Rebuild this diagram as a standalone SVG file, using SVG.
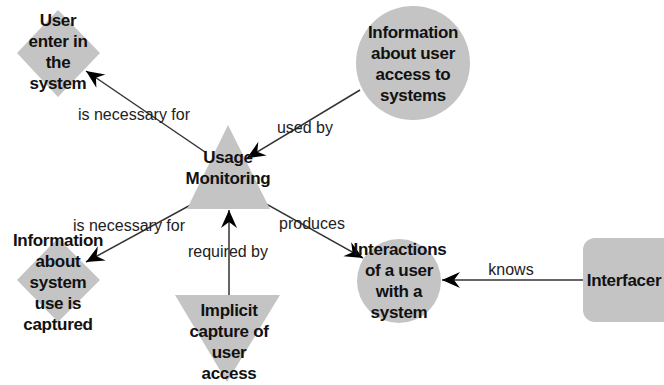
<svg xmlns="http://www.w3.org/2000/svg" width="664" height="385" viewBox="0 0 664 385">
<style>
.node{fill:#c4c4c4;stroke:none}
.nt{font-family:"Liberation Sans",Arial,sans-serif;font-weight:bold;font-size:17px;letter-spacing:-0.3px;fill:#111;text-anchor:middle}
.lbl{font-family:"Liberation Sans",Arial,sans-serif;font-size:16px;fill:#222;text-anchor:middle}
.edge{stroke:#333;stroke-width:1.5;fill:none;marker-end:url(#arr)}
</style>
<defs>
<marker id="arr" markerUnits="userSpaceOnUse" viewBox="-19 -9 20 18" refX="0" refY="0" markerWidth="20" markerHeight="18" orient="auto">
<path d="M0,0 L-18,-8 L-12,0 L-18,8 Z" fill="#000"/>
</marker>
</defs>
<rect width="664" height="385" fill="#fff"/>
<g id="connectors">
<line class="edge" x1="205" y1="152" x2="86" y2="71"/>
<line class="edge" x1="360" y1="90" x2="247" y2="158"/>
<line class="edge" x1="207" y1="196" x2="86" y2="262"/>
<line class="edge" x1="229" y1="295" x2="229" y2="210"/>
<line class="edge" x1="250" y1="195" x2="363" y2="258"/>
<line class="edge" x1="583" y1="280" x2="442" y2="280"/>
<text class="lbl" x="134" y="120">is necessary for</text>
<text class="lbl" x="305" y="133">used by</text>
<text class="lbl" x="129" y="231">is necessary for</text>
<text class="lbl" x="228" y="257">required by</text>
<text class="lbl" x="312" y="229">produces</text>
<text class="lbl" x="511" y="275">knows</text>
</g>
<g id="user-enter">
<polygon class="node" points="58,10 100,53 58,97 17,53"/>
<text class="nt" x="58" y="26">User</text>
<text class="nt" x="58" y="47">enter in</text>
<text class="nt" x="58" y="68">the</text>
<text class="nt" x="58" y="89">system</text>
</g>
<g id="info-access">
<circle class="node" cx="413" cy="63" r="57"/>
<text class="nt" x="413" y="38">Information</text>
<text class="nt" x="413" y="59">about user</text>
<text class="nt" x="413" y="80">access to</text>
<text class="nt" x="413" y="101">systems</text>
</g>
<g id="usage-monitoring">
<polygon class="node" points="228,125 270,209 187,209"/>
<text class="nt" x="228" y="163">Usage</text>
<text class="nt" x="228" y="184">Monitoring</text>
</g>
<g id="info-system-use">
<polygon class="node" points="58,238 100,280 58,322 17,280"/>
<text class="nt" x="58" y="246">Information</text>
<text class="nt" x="58" y="267">about</text>
<text class="nt" x="58" y="288">system</text>
<text class="nt" x="58" y="309">use is</text>
<text class="nt" x="58" y="330">captured</text>
</g>
<g id="implicit-capture">
<polygon class="node" points="175,295 280,295 227,382"/>
<text class="nt" x="229" y="316">Implicit</text>
<text class="nt" x="229" y="337">capture of</text>
<text class="nt" x="229" y="358">user</text>
<text class="nt" x="229" y="379">access</text>
</g>
<g id="interactions">
<circle class="node" cx="399" cy="281" r="42"/>
<text class="nt" x="400" y="255">Interactions</text>
<text class="nt" x="399" y="276">of a user</text>
<text class="nt" x="399" y="297">with a</text>
<text class="nt" x="399" y="318">system</text>
</g>
<g id="interfacer">
<rect class="node" x="583" y="238" width="100" height="84" rx="12"/>
<text class="nt" x="624" y="286">Interfacer</text>
</g>
</svg>
